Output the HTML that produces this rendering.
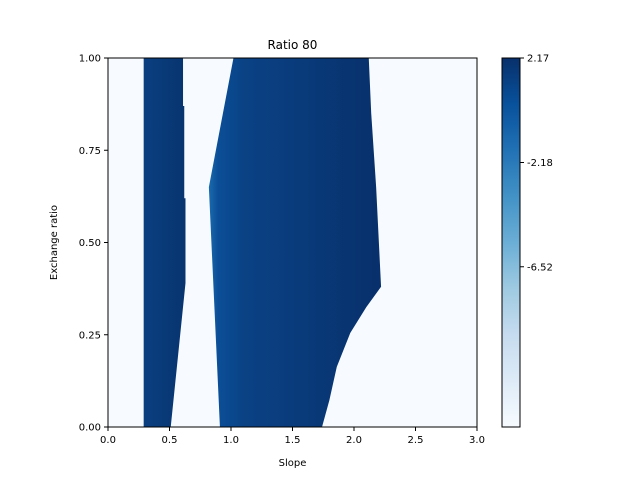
<!DOCTYPE html>
<html><head><meta charset="utf-8"><style>
body{margin:0;background:#fff;font-family:"Liberation Sans","DejaVu Sans",sans-serif;}
svg text{font-family:"DejaVu Sans","Liberation Sans",sans-serif;font-size:10px;fill:#000}
</style></head><body>
<svg id="chart" width="640" height="480" viewBox="0 0 640 480">
<defs>
<linearGradient id="cbar" x1="0" y1="1" x2="0" y2="0">
<stop offset="0" stop-color="#f7fbff"/><stop offset="0.125" stop-color="#deebf7"/>
<stop offset="0.25" stop-color="#c6dbef"/><stop offset="0.375" stop-color="#9ecae1"/>
<stop offset="0.5" stop-color="#6baed6"/><stop offset="0.625" stop-color="#4292c6"/>
<stop offset="0.75" stop-color="#2171b5"/><stop offset="0.875" stop-color="#08519c"/>
<stop offset="1" stop-color="#08306b"/></linearGradient>
<linearGradient id="mainGrad" gradientUnits="userSpaceOnUse" x1="209" y1="0" x2="381" y2="0">
<stop offset="0" stop-color="#1a6aae"/><stop offset="0.05" stop-color="#0b4f98"/>
<stop offset="0.2" stop-color="#0a4285"/><stop offset="1" stop-color="#08306b"/></linearGradient>
<linearGradient id="leftGrad" gradientUnits="userSpaceOnUse" x1="144" y1="0" x2="186" y2="0">
<stop offset="0" stop-color="#0a3f80"/><stop offset="1" stop-color="#08346f"/></linearGradient>
</defs>
<g id="plot"></g>
</svg>
<script>
// data: boundaries of filled regions (exchange ratio y, slope x)
const leftBandY = [1.0, 0.87, 0.87, 0.62, 0.62, 0.39, 0.0];
const leftBandXR = [0.61, 0.61, 0.62, 0.62, 0.63, 0.63, 0.51];
const leftBandXL = 0.29;
const mainLeftY = [1.0, 0.65, 0.0];
const mainLeftX = [1.02, 0.82, 0.91];
const mainRightY = [1.0, 0.85, 0.65, 0.38, 0.325, 0.255, 0.163, 0.073, 0.0];
const mainRightX = [2.12, 2.14, 2.18, 2.22, 2.10, 1.97, 1.86, 1.80, 1.74];
const xTicks = [0.0, 0.5, 1.0, 1.5, 2.0, 2.5, 3.0];
const yTicks = [0.00, 0.25, 0.50, 0.75, 1.00];
const cbarTicks = [2.17, -2.18, -6.52];
const cbarMin = -13.19, cbarMax = 2.17;

const L=108,R=477,T=58,B=427;
const sx=v=>L+(v/3)*(R-L);
const sy=v=>B-v*(B-T);
const NS='http://www.w3.org/2000/svg';
const g=document.getElementById('plot');
function mk(tag,attrs,parent){const e=document.createElementNS(NS,tag);for(const k in attrs)e.setAttribute(k,attrs[k]);(parent||g).appendChild(e);return e;}

const bg=mk('rect',{x:L,y:T,width:R-L,height:B-T,fill:'#f7fbff'});



let pts=[[sx(leftBandXL),sy(1)]];
leftBandY.forEach((y,i)=>pts.push([sx(leftBandXR[i]),sy(y)]));
pts.push([sx(leftBandXL),sy(0)]);
const lb=mk('polygon',{points:pts.map(p=>p.join(',')).join(' '),fill:'url(#leftGrad)'});



pts=[];
mainLeftY.forEach((y,i)=>pts.push([sx(mainLeftX[i]),sy(y)]));
for(let i=mainRightY.length-1;i>=0;i--)pts.push([sx(mainRightX[i]),sy(mainRightY[i])]);
const mr=mk('polygon',{points:pts.map(p=>p.join(',')).join(' '),fill:'url(#mainGrad)'});



const fr=mk('rect',{x:L,y:T,width:R-L,height:B-T,fill:'none',stroke:'#000','stroke-width':1});



xTicks.forEach(v=>{
  const x=sx(v);
  const t=mk('line',{x1:x,x2:x,y1:B,y2:B+4,stroke:'#000'});
  
  
  const tx=mk('text',{x:x,y:B+16,'text-anchor':'middle'});tx.textContent=v.toFixed(1);
  
  
});
yTicks.forEach(v=>{
  const y=sy(v);
  const t=mk('line',{x1:L-4,x2:L,y1:y,y2:y,stroke:'#000'});
  
  
  const tx=mk('text',{x:L-7,y:y+3.5,'text-anchor':'end'});tx.textContent=v.toFixed(2);
  
  
});
const ttl=mk('text',{x:(L+R)/2,y:49,'text-anchor':'middle',style:'font-size:12px'});ttl.textContent='Ratio 80';


const xl=mk('text',{x:(L+R)/2,y:466,'text-anchor':'middle'});xl.textContent='Slope';


const yl=mk('text',{x:57,y:(T+B)/2,'text-anchor':'middle',transform:'rotate(-90 57 '+((T+B)/2)+')'});yl.textContent='Exchange ratio';



const CL=502,CR=520;
const cb=mk('rect',{x:CL,y:T,width:CR-CL,height:B-T,fill:'url(#cbar)',stroke:'#000','stroke-width':1});


const cy=v=>B-(v-cbarMin)/(cbarMax-cbarMin)*(B-T);
cbarTicks.forEach(v=>{
  const y=cy(v);
  const t=mk('line',{x1:CR,x2:CR+4,y1:y,y2:y,stroke:'#000'});
  
  
  const tx=mk('text',{x:CR+7,y:y+3.5});tx.textContent=v.toFixed(2);
  
  
});
</script>
</body></html>
